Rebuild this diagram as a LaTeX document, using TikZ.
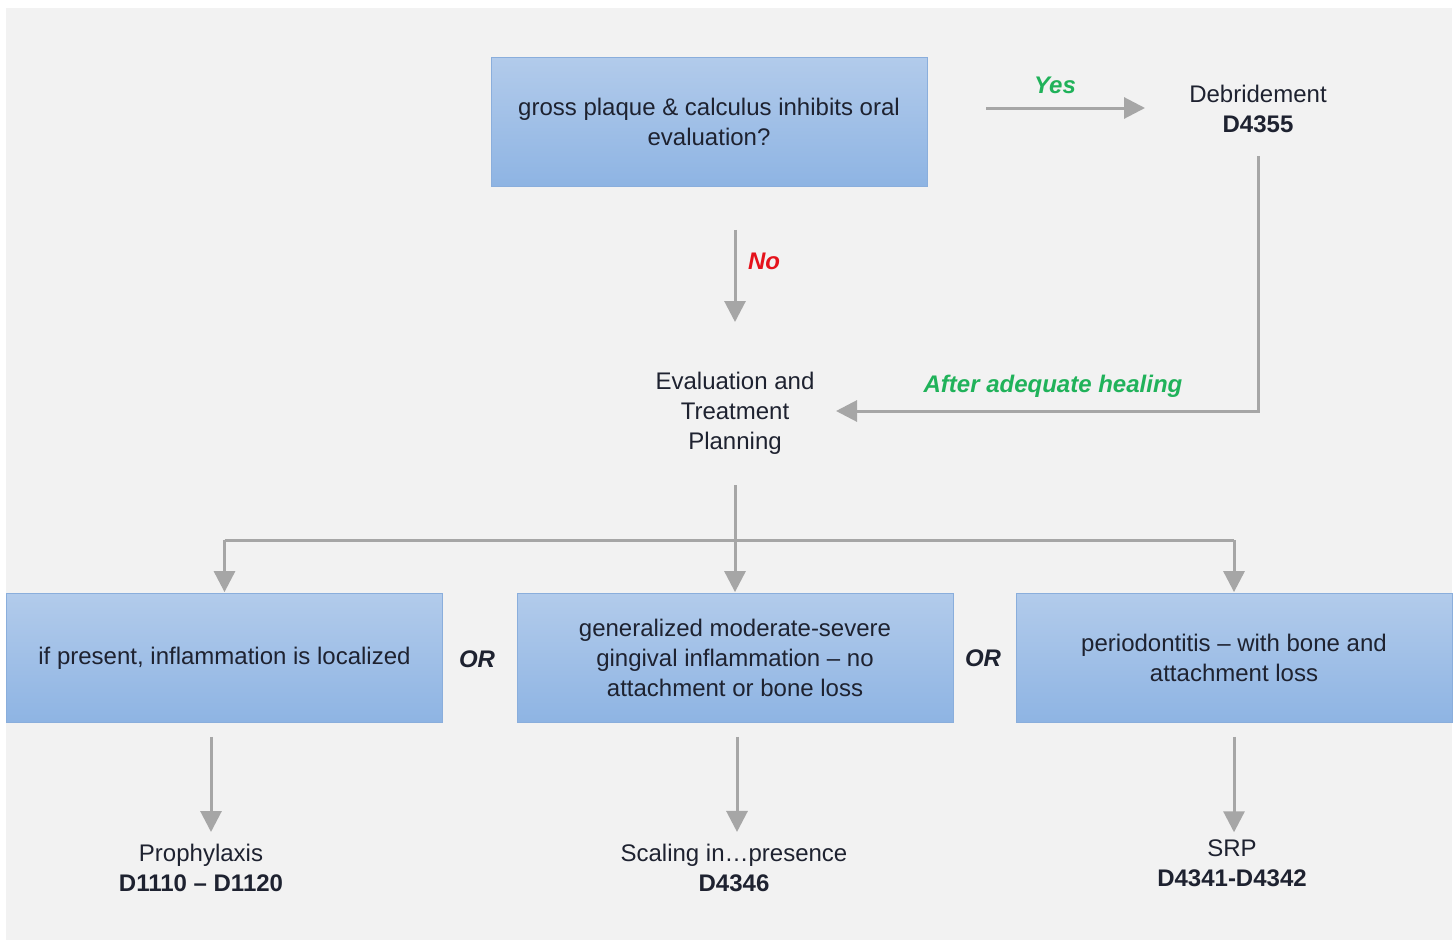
\documentclass[tikz,border=0pt]{standalone}
\usepackage{fontspec}
\setmainfont{Liberation Sans}
\usetikzlibrary{arrows.meta}
\definecolor{bggrey}{HTML}{F2F2F2}
\definecolor{arrgrey}{HTML}{A6A6A6}
\definecolor{boxtop}{HTML}{B2CBEB}
\definecolor{boxbot}{HTML}{8EB4E3}
\definecolor{boxline}{HTML}{8AAEDC}
\definecolor{txtdark}{HTML}{1E2230}
\definecolor{yesgreen}{HTML}{20B25A}
\definecolor{nored}{HTML}{E5121B}
\begin{document}
\begin{tikzpicture}[x=1pt,y=-1pt]
\tikzstyle{every node}=[font=\fontsize{24}{30}\selectfont,text=txtdark,align=center];
\tikzstyle{qbox}=[draw=boxline,line width=0.8pt,top color=boxtop,bottom color=boxbot,minimum width=436pt,minimum height=129pt,inner sep=0pt];
\tikzstyle{plain}=[inner sep=0pt];
\tikzstyle{arr}=[-{Triangle[width=21pt,length=21pt]},line width=3pt,draw=arrgrey];
\tikzstyle{line}=[line width=3pt,draw=arrgrey];
\tikzstyle{lab}=[font=\fontsize{24}{30}\selectfont\bfseries\itshape,inner sep=0pt];

  \useasboundingbox (0,0) rectangle (1455,940);
  \fill[white] (0,0) rectangle (1455,940);
  \fill[bggrey] (6,8) rectangle (1452,940);

  \node[qbox] (gross) at (709,122) {gross plaque \& calculus inhibits oral\\evaluation?};
  \node[plain] (debr) at (1258,109) {Debridement\\\textbf{D4355}};
  \node[plain] (eval) at (735,413) {Evaluation and\\Treatment\\Planning};

  \node[qbox] (loc) at (224.5,658) {if present, inflammation is localized};
  \node[qbox] (gen) at (735,658) {generalized moderate-severe\\gingival inflammation -- no\\attachment or bone loss};
  \node[qbox] (perio) at (1234,658) {periodontitis -- with bone and\\attachment loss};

  \node[plain] (proph) at (201,868) {Prophylaxis\\\textbf{D1110 -- D1120}};
  \node[plain] (scal) at (734,868) {Scaling in\ldots presence\\\textbf{D4346}};
  \node[plain] (srp) at (1232,863) {SRP\\\textbf{D4341-D4342}};

  \node[lab,text=yesgreen] (yes) at (1055,85) {Yes};
  \node[lab,text=nored] (no) at (764,261) {No};
  \node[lab,text=yesgreen] (heal) at (1053,386) {After adequate healing};
  \node[lab] (or1) at (477,659) {OR};
  \node[lab] (or2) at (983,658) {OR};

  \draw[arr] (986,108) -- (1145,108);
  \draw[arr] (eval.north |- gross.south) ++(0,43) -- (735,322);
  \draw[arr] (debr.south) ++(0,23) |- (836,411);

  \coordinate (bus) at (735,540);
  \draw[line] (735,485) -- (bus);
  \draw[line] (loc.north |- bus) -- (perio.north |- bus);
  \foreach \b in {loc,gen,perio}
  \draw[arr] (\b.north |- bus) -- ([yshift=1pt]\b.north);

  \foreach \from/\to/\dx/\dy in {loc/proph/10/12, gen/scal/3/12, perio/srp/2/7}
  \draw[arr] ([xshift=\dx pt]\to.north |- \from.south) ++(0,14) -- ([xshift=\dx pt,yshift=\dy pt]\to.north);

\end{tikzpicture}
\end{document}
